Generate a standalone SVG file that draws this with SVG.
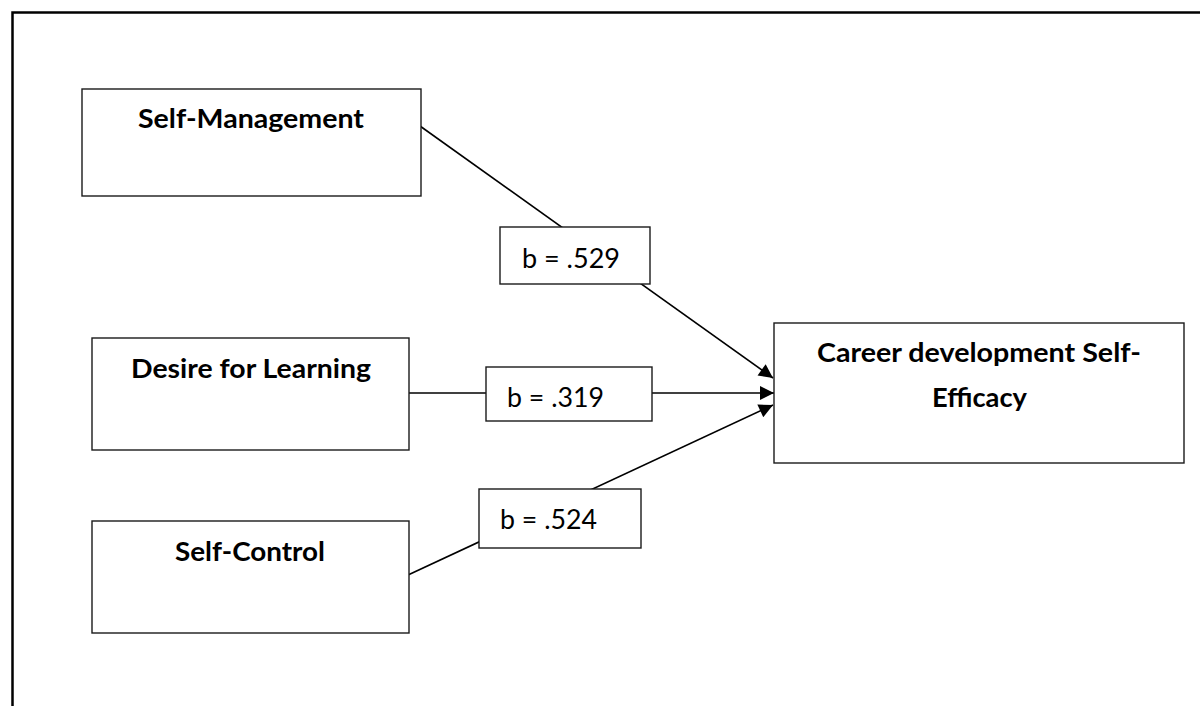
<svg xmlns="http://www.w3.org/2000/svg" width="1200" height="706" viewBox="0 0 1200 706">
<style>
.box{fill:#fff;stroke:#1a1a1a;stroke-width:1.4}
.lbl{fill:#fff;stroke:#1a1a1a;stroke-width:1.4}
.t{font-family:Lato,"Liberation Sans",sans-serif;font-weight:bold;font-size:27px;fill:#000}
.n{font-family:Lato,"Liberation Sans",sans-serif;font-size:26px;fill:#000}
.c{stroke:#000;stroke-width:1.6;fill:none}
</style>
<defs>
<marker id="ah" viewBox="0 0 10 10" refX="10" refY="5" markerWidth="18" markerHeight="14" markerUnits="userSpaceOnUse" orient="auto">
<path d="M0,0 L10,5 L0,10 Z" fill="#000"/>
</marker>
</defs>
<rect width="1200" height="706" fill="#fff"/>
<path d="M12.5,706 V12.5 H1200" fill="none" stroke="#000" stroke-width="2.5"/>
<g id="connectors">
<line class="c" x1="420" y1="126" x2="773" y2="378" marker-end="url(#ah)"/>
<line class="c" x1="408" y1="393" x2="774" y2="393" marker-end="url(#ah)"/>
<line class="c" x1="408" y1="575" x2="773" y2="405" marker-end="url(#ah)"/>
</g>
<g id="self-management">
<rect class="box" x="82" y="89" width="339" height="107"/>
<text class="t" x="138" y="128" textLength="226" lengthAdjust="spacingAndGlyphs">Self-Management</text>
</g>
<g id="desire-for-learning">
<rect class="box" x="92" y="338" width="317" height="112"/>
<text class="t" x="131" y="378" textLength="240" lengthAdjust="spacingAndGlyphs">Desire for Learning</text>
</g>
<g id="self-control">
<rect class="box" x="92" y="521" width="317" height="112"/>
<text class="t" x="175" y="561" textLength="150" lengthAdjust="spacingAndGlyphs">Self-Control</text>
</g>
<g id="career">
<rect class="box" x="774" y="323" width="410" height="140"/>
<text class="t" x="817" y="362" textLength="324" lengthAdjust="spacingAndGlyphs">Career development Self-</text>
<text class="t" x="932" y="407" textLength="95" lengthAdjust="spacingAndGlyphs">Efficacy</text>
</g>
<g id="label-529">
<rect class="lbl" x="500" y="227" width="150" height="57"/>
<text class="n" x="522" y="268" textLength="98" lengthAdjust="spacingAndGlyphs">b = .529</text>
</g>
<g id="label-319">
<rect class="lbl" x="486" y="367" width="166" height="54"/>
<text class="n" x="507" y="407" textLength="97" lengthAdjust="spacingAndGlyphs">b = .319</text>
</g>
<g id="label-524">
<rect class="lbl" x="479" y="489" width="162" height="59"/>
<text class="n" x="500" y="529" textLength="97" lengthAdjust="spacingAndGlyphs">b = .524</text>
</g>
</svg>
